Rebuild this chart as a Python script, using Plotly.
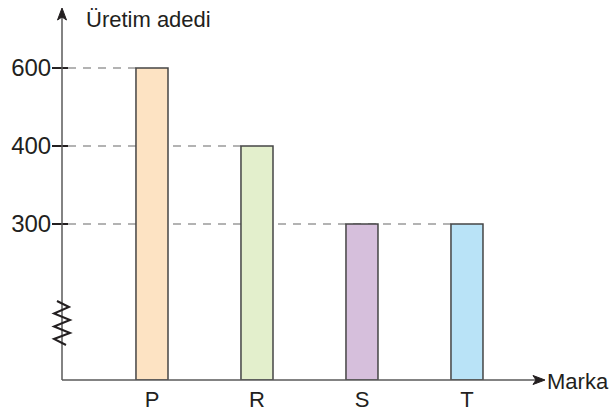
import plotly.graph_objects as go

# ---- data ----
markalar = ["P", "R", "S", "T"]
uretim = [600, 400, 300, 300]
y_tick_values = [300, 400, 600]
bar_colors = ["#fde3c3", "#e3efcc", "#d6bfdc", "#b9e3f7"]

# Broken (schematic) value axis: tick levels are equally spaced,
# with the axis break leaving two level-steps below the lowest tick.
BREAK_OFFSET = 2
level_of = {v: i + BREAK_OFFSET for i, v in enumerate(y_tick_values)}
levels = [level_of[v] for v in uretim]

TXT = "#231f20"
FONT = "Liberation Sans, Arial, sans-serif"
BAR_W = 0.305

# plot area in page pixels
L, R, T, B = 62, 543, 10, 380
PAGE_W, PAGE_H = 611, 416
X_MIN, X_MAX = -0.857, 3.724
Y_MIN, Y_MAX = 0, 4.744


def pp(x, y):
    """page pixel -> paper coordinates (for decorations only)"""
    return ((x - L) / (R - L), (B - y) / (B - T))


fig = go.Figure()
fig.add_trace(go.Bar(
    x=list(range(len(markalar))),
    y=levels,
    customdata=uretim,
    hovertemplate="%{customdata}<extra></extra>",
    width=BAR_W,
    marker=dict(color=bar_colors, line=dict(color="#454545", width=1.5)),
))

shapes = []
# dashed guide lines from the axis to the last bar with that value
for v in y_tick_values:
    last_idx = max(i for i, u in enumerate(uretim) if u == v)
    shapes.append(dict(type="line", xref="paper", yref="y",
                       x0=pp(68, 0)[0],
                       x1=(last_idx - BAR_W / 2 - X_MIN) / (X_MAX - X_MIN),
                       y0=level_of[v], y1=level_of[v], layer="below",
                       line=dict(color="#9b9b9b", width=1.5, dash="8px,7px")))
    # tick mark crossing the axis
    shapes.append(dict(type="line", xref="paper", yref="y",
                       x0=pp(52, 0)[0], x1=pp(68, 0)[0],
                       y0=level_of[v], y1=level_of[v],
                       line=dict(color=TXT, width=2)))

# y axis line + arrowhead
shapes.append(dict(type="line", xref="paper", yref="paper",
                   x0=0, x1=0, y0=0, y1=pp(0, 16)[1],
                   line=dict(color="#5a5a5a", width=1.5)))
ya = [pp(62, 8), pp(57.5, 20), pp(62, 17), pp(66.5, 20)]
shapes.append(dict(type="path", xref="paper", yref="paper",
                   path="M{} {} L{} {} L{} {} L{} {} Z".format(*[c for p in ya for c in p]),
                   fillcolor=TXT, line=dict(color=TXT, width=1)))
# x axis line + arrowhead
shapes.append(dict(type="line", xref="paper", yref="paper",
                   x0=0, x1=pp(537, 0)[0], y0=0, y1=0,
                   line=dict(color="#5a5a5a", width=1.5)))
xa = [pp(545, 380), pp(533, 375.5), pp(536, 380), pp(533, 384.5)]
shapes.append(dict(type="path", xref="paper", yref="paper",
                   path="M{} {} L{} {} L{} {} L{} {} Z".format(*[c for p in xa for c in p]),
                   fillcolor=TXT, line=dict(color=TXT, width=1)))
# zigzag axis break
zz = [(57, 301), (69, 307), (54, 313.5), (70, 320), (54, 326.5), (70, 333), (54, 339), (66, 345)]
zzp = [pp(x, y) for x, y in zz]
path = "M{} {}".format(*zzp[0]) + "".join(" L{} {}".format(*p) for p in zzp[1:])
shapes.append(dict(type="path", xref="paper", yref="paper", path=path,
                   line=dict(color=TXT, width=2)))

annotations = [
    dict(text="Üretim adedi", xref="paper", yref="paper",
         x=pp(84, 0)[0], y=pp(0, 20)[1], xanchor="left", yanchor="middle",
         showarrow=False, font=dict(family=FONT, size=22, color=TXT)),
    dict(text="Marka", xref="paper", yref="paper",
         x=pp(545, 0)[0], y=pp(0, 381)[1], xanchor="left", yanchor="middle",
         showarrow=False, font=dict(family=FONT, size=22, color=TXT)),
]

fig.update_layout(
    width=PAGE_W, height=PAGE_H,
    margin=dict(l=L, r=PAGE_W - R, t=T, b=PAGE_H - B, autoexpand=False),
    paper_bgcolor="white", plot_bgcolor="white",
    showlegend=False,
    font=dict(family=FONT, size=22, color=TXT),
    shapes=shapes,
    annotations=annotations,
    xaxis=dict(range=[X_MIN, X_MAX], tickmode="array",
               tickvals=list(range(len(markalar))), ticktext=markalar,
               showgrid=False, zeroline=False, showline=False, ticks="",
               ticklabelstandoff=4, automargin=False,
               tickfont=dict(family=FONT, size=22, color=TXT), fixedrange=True),
    yaxis=dict(range=[Y_MIN, Y_MAX], tickmode="array",
               tickvals=[level_of[v] for v in y_tick_values],
               ticktext=[str(v) for v in y_tick_values],
               showgrid=False, zeroline=False, showline=False,
               ticks="outside", ticklen=5, tickcolor="rgba(0,0,0,0)",
               automargin=False,
               tickfont=dict(family=FONT, size=24, color=TXT), fixedrange=True),
)

fig.write_html(
    "out.html",
    config={"displayModeBar": False},
    post_script=(
        "var s=document.createElement('style');"
        "s.textContent='html,body{margin:0;padding:0;overflow:hidden;width:611px;height:416px;}';"
        "document.head.appendChild(s);"
    ),
)
